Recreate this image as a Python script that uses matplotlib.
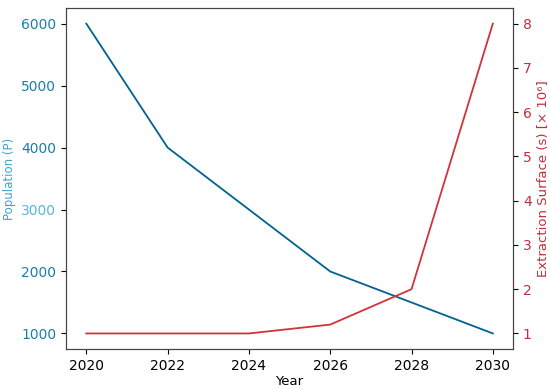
import matplotlib.pyplot as plt

# data
years = [2020, 2022, 2024, 2026, 2028, 2030]
population = [6000, 4000, 3000, 2000, 1500, 1000]
extraction = [1.0, 1.0, 1.0, 1.2, 2.0, 8.0]

blue = '#00628f'
red = '#d0343a'

fig, ax1 = plt.subplots(figsize=(5.5, 3.89), dpi=100)
fig.subplots_adjust(left=0.12, right=0.933, top=0.979, bottom=0.103)

ax1.plot(years, population, color=blue, linewidth=1.3)
ax1.set_xlabel('Year', fontsize=9.5, labelpad=2)
ax1.set_ylabel('Population (P)', color='#3fa3cf', fontsize=8.5)
ax1.tick_params(axis='y', labelcolor='#1a7fa6', labelsize=10)
ax1.tick_params(axis='x', labelsize=10)
ax1.set_yticks([1000, 2000, 3000, 4000, 5000, 6000])
ax1.get_yticklabels()[2].set_color('#5ab4dc')

ax2 = ax1.twinx()
ax2.plot(years, extraction, color=red, linewidth=1.3)
ax2.set_ylabel('Extraction Surface (s) [\u00d7 10\u2076]', color='#c0303a', fontsize=9.5)
ax2.tick_params(axis='y', labelcolor='#c0303a', labelsize=10)
ax2.set_yticks([1, 2, 3, 4, 5, 6, 7, 8])

for ax in (ax1, ax2):
    for s in ax.spines.values():
        s.set_color('#444444')

plt.savefig('out.png')
